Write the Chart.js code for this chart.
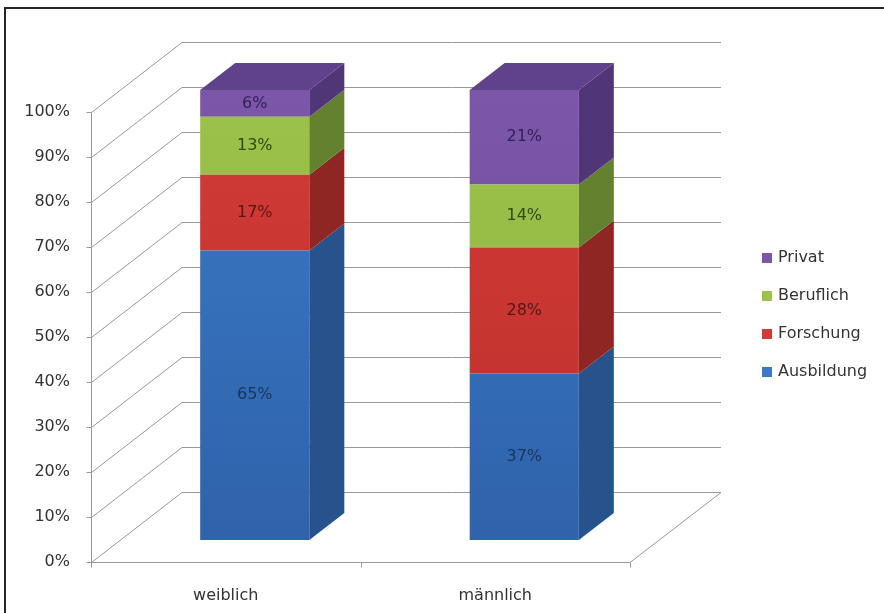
<!DOCTYPE html>
<html>
<head>
<meta charset="utf-8">
<script src="https://cdn.jsdelivr.net/npm/chart.js@4.4.1/dist/chart.umd.min.js"></script>
<style>
  body { margin: 0; background: #fff; }
  canvas { display: block; }
</style>
</head>
<body>
<canvas id="chart" width="884" height="613"></canvas>
<script>
// Values (percent per group, 100% stacked)
const categories = ['weiblich', 'männlich'];
const seriesNames = ['Ausbildung', 'Forschung', 'Beruflich', 'Privat'];
const ausbildung = [65, 37];
const forschung = [17, 28];
const beruflich = [13, 14];
const privat = [6, 21];
const yTicks = [0, 10, 20, 30, 40, 50, 60, 70, 80, 90, 100];

const seriesValues = [ausbildung, forschung, beruflich, privat];
const frontColors = ['#3b78c6', '#d13b37', '#9cc24b', '#7b56a9'];
const frontDark = ['#2f63ab', '#bf302d', '#8fb441', '#6f4b9c'];
const sideColors = ['#27528c', '#8f2624', '#64812f', '#503577'];
const topColor = '#5f418c';
const labelColors = ['#17365d', '#5a1614', '#2f4a12', '#32205a'];

// 100% stacked: normalise each group by its total
const totals = categories.map((c, i) => seriesValues.reduce((s, arr) => s + arr[i], 0));

const FONT = 'DejaVu Sans';
const TEXT = '#333333';
const GRID = '#999999';

// 3D projection offsets (relative to the plane the bars stand in)
const depth = { dx: 35, dy: -27 };
const frontOff = { dx: -29, dy: 22 };
const backOff = { dx: 62, dy: -48 };

// slight top-to-bottom shading on the front faces
function frontFill(di) {
    return function(c) {
        const area = c.chart.chartArea;
        if (!area) return frontColors[di];
        const g = c.chart.ctx.createLinearGradient(0, area.top, 0, area.bottom);
        g.addColorStop(0, frontColors[di]);
        g.addColorStop(1, frontDark[di]);
        return g;
    };
}

const frame3d = {
    id: 'frame3d',
    beforeDraw(chart) {
        const ctx = chart.ctx;
        ctx.save();
        ctx.fillStyle = '#fff';
        ctx.fillRect(0, 0, chart.width, chart.height);
        // outer frame (only top and left edges are in view)
        ctx.fillStyle = '#262626';
        ctx.fillRect(4, 7, chart.width, 2);
        ctx.fillRect(4, 7, 2, chart.height);
        ctx.restore();
    },
    beforeDatasetsDraw(chart) {
        const { ctx, chartArea: a, scales: { x, y } } = chart;
        ctx.save();
        ctx.strokeStyle = GRID;
        ctx.lineWidth = 1;
        const fx = a.left + frontOff.dx + 0.5;
        y.ticks.forEach(t => {
            const py = Math.round(y.getPixelForValue(t.value)) + 0.5;
            ctx.beginPath();
            ctx.moveTo(fx, py + frontOff.dy);
            ctx.lineTo(a.left + backOff.dx, py + backOff.dy);
            ctx.lineTo(a.right + backOff.dx, py + backOff.dy);
            ctx.stroke();
            ctx.beginPath();
            ctx.moveTo(fx - 5, py + frontOff.dy);
            ctx.lineTo(fx, py + frontOff.dy);
            ctx.stroke();
        });
        const y0 = Math.round(y.getPixelForValue(0)) + 0.5;
        const y100 = Math.round(y.getPixelForValue(100)) + 0.5;
        // front value axis
        ctx.beginPath();
        ctx.moveTo(fx, y0 + frontOff.dy);
        ctx.lineTo(fx, y100 + frontOff.dy);
        ctx.stroke();
        // floor
        ctx.beginPath();
        ctx.moveTo(fx, y0 + frontOff.dy);
        ctx.lineTo(a.right + frontOff.dx, y0 + frontOff.dy);
        ctx.lineTo(a.right + backOff.dx, y0 + backOff.dy);
        ctx.stroke();
        // category ticks on the floor edge
        const step = (a.right - a.left) / categories.length;
        for (let i = 0; i <= categories.length; i++) {
            const tx = Math.round(a.left + i * step + frontOff.dx) + 0.5;
            ctx.beginPath();
            ctx.moveTo(tx, y0 + frontOff.dy);
            ctx.lineTo(tx, y0 + frontOff.dy + 5);
            ctx.stroke();
        }
        ctx.restore();
    },
    afterDatasetsDraw(chart) {
        const ctx = chart.ctx;
        const last = chart.data.datasets.length - 1;
        ctx.save();
        chart.data.datasets.forEach((ds, di) => {
            const meta = chart.getDatasetMeta(di);
            meta.data.forEach((bar, i) => {
                const l = bar.x - bar.width / 2;
                const r = bar.x + bar.width / 2;
                const top = bar.y;
                const bottom = bar.base;
                // side face
                ctx.fillStyle = sideColors[di];
                ctx.beginPath();
                ctx.moveTo(r, top);
                ctx.lineTo(r + depth.dx, top + depth.dy);
                ctx.lineTo(r + depth.dx, bottom + depth.dy);
                ctx.lineTo(r, bottom);
                ctx.closePath();
                ctx.fill();
                // top face of the stack
                if (di === last) {
                    ctx.fillStyle = topColor;
                    ctx.beginPath();
                    ctx.moveTo(l, top);
                    ctx.lineTo(r, top);
                    ctx.lineTo(r + depth.dx, top + depth.dy);
                    ctx.lineTo(l + depth.dx, top + depth.dy);
                    ctx.closePath();
                    ctx.fill();
                }
                // value label
                ctx.fillStyle = labelColors[di];
                ctx.font = '16px "' + FONT + '"';
                ctx.textAlign = 'center';
                ctx.textBaseline = 'middle';
                ctx.fillText(seriesValues[di][i] + '%', bar.x, (top + bottom) / 2);
            });
        });
        ctx.restore();
    },
    afterDraw(chart) {
        // legend, top series first
        const ctx = chart.ctx;
        ctx.save();
        ctx.font = '16px "' + FONT + '"';
        ctx.textBaseline = 'middle';
        ctx.textAlign = 'left';
        const order = chart.data.datasets.map((d, i) => i).reverse();
        order.forEach((di, k) => {
            const cy = 258 + k * 38;
            ctx.fillStyle = frontColors[di];
            ctx.fillRect(762, cy - 5, 10, 10);
            ctx.fillStyle = TEXT;
            ctx.fillText(chart.data.datasets[di].label, 778, cy);
        });
        ctx.restore();
    }
};

const ctx = document.getElementById('chart').getContext('2d');
const chart = new Chart(ctx, {
    type: 'bar',
    data: {
        labels: categories,
        datasets: seriesNames.map((name, di) => ({
            label: name,
            data: seriesValues[di].map((v, i) => v / totals[i] * 100),
            backgroundColor: frontFill(di),
            borderWidth: 0,
            barPercentage: 1,
            categoryPercentage: 0.405
        }))
    },
    options: {
        responsive: false,
        animation: false,
        layout: { padding: { top: 90, right: 225, left: 0, bottom: 0 } },
        plugins: {
            legend: { display: false },
            tooltip: { enabled: false }
        },
        scales: {
            x: {
                stacked: true,
                grid: { display: false },
                border: { display: false },
                ticks: {
                    labelOffset: frontOff.dx,
                    padding: 38,
                    color: TEXT,
                    font: { family: FONT, size: 16 }
                },
                afterFit: s => { s.height = 73; }
            },
            y: {
                stacked: true,
                min: 0,
                max: 100,
                grid: { display: false, drawTicks: false },
                border: { display: false },
                afterBuildTicks: s => { s.ticks = yTicks.map(v => ({ value: v })); },
                ticks: {
                    labelOffset: frontOff.dy,
                    padding: 50,
                    color: TEXT,
                    font: { family: FONT, size: 16 },
                    callback: v => v + '%'
                },
                afterFit: s => { s.width = 120; }
            }
        }
    },
    plugins: [frame3d]
});
</script>
</body>
</html>
